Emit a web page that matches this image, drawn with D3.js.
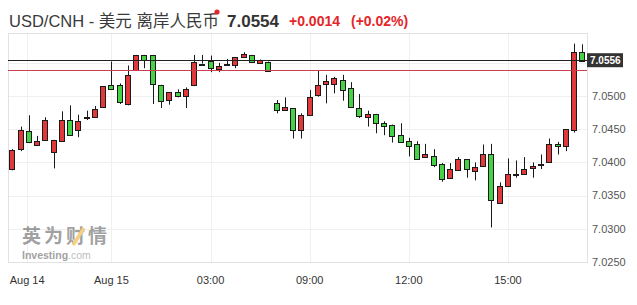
<!DOCTYPE html>
<html>
<head>
<meta charset="utf-8">
<script src="https://cdn.jsdelivr.net/npm/d3@7"></script>
<style>
  body { margin: 0; background: #fff; }
  text { font-family: "Liberation Sans", Arial, "Noto Sans CJK SC", sans-serif; }
</style>
</head>
<body>
<div id="chart"></div>
<script>
/**
 * Data
 */
var openVals = [
  7.0391, 7.0421, 7.0447, 7.0427, 7.0434, 7.0416, 7.0433, 7.0464, 7.0449, 7.0469,
  7.0468, 7.0483, 7.0517, 7.0516, 7.0488, 7.0539, 7.0562, 7.0562, 7.0517, 7.0494,
  7.0506, 7.0499, 7.0517, 7.0549, 7.0553, 7.0541, 7.0548, 7.0547, 7.0559, 7.0562,
  7.0550, 7.0552, 7.0489, 7.0478, 7.0482, 7.0448, 7.0472, 7.0502, 7.0517, 7.0518,
  7.0524, 7.0512, 7.0482, 7.0469, 7.0473, 7.0459, 7.0457, 7.0441, 7.0433, 7.0428,
  7.0408, 7.0410, 7.0397, 7.0377, 7.0388, 7.0405, 7.0387, 7.0394, 7.0412, 7.0340,
  7.0365, 7.0382, 7.0382, 7.0392, 7.0397, 7.0401, 7.0428, 7.0424, 7.0450, 7.0567
];
var highVals = [
  7.0420, 7.0454, 7.0471, 7.0440, 7.0468, 7.0434, 7.0477, 7.0486, 7.0472, 7.0478,
  7.0485, 7.0515, 7.0552, 7.0519, 7.0546, 7.0562, 7.0562, 7.0562, 7.0517, 7.0506,
  7.0510, 7.0513, 7.0562, 7.0562, 7.0561, 7.0550, 7.0556, 7.0559, 7.0566, 7.0562,
  7.0555, 7.0552, 7.0494, 7.0498, 7.0482, 7.0474, 7.0509, 7.0539, 7.0532, 7.0529,
  7.0532, 7.0521, 7.0503, 7.0478, 7.0473, 7.0462, 7.0457, 7.0459, 7.0437, 7.0432,
  7.0428, 7.0420, 7.0399, 7.0399, 7.0408, 7.0405, 7.0400, 7.0427, 7.0428, 7.0370,
  7.0406, 7.0403, 7.0408, 7.0400, 7.0412, 7.0436, 7.0431, 7.0450, 7.0579, 7.0578
];
var lowVals = [
  7.0388, 7.0417, 7.0429, 7.0427, 7.0434, 7.0391, 7.0433, 7.0442, 7.0438, 7.0464,
  7.0468, 7.0483, 7.0511, 7.0488, 7.0486, 7.0539, 7.0542, 7.0488, 7.0482, 7.0487,
  7.0498, 7.0482, 7.0517, 7.0549, 7.0536, 7.0536, 7.0548, 7.0542, 7.0559, 7.0552,
  7.0550, 7.0538, 7.0474, 7.0478, 7.0436, 7.0436, 7.0472, 7.0499, 7.0489, 7.0504,
  7.0493, 7.0483, 7.0467, 7.0454, 7.0444, 7.0441, 7.0430, 7.0430, 7.0409, 7.0406,
  7.0408, 7.0393, 7.0371, 7.0377, 7.0388, 7.0377, 7.0373, 7.0394, 7.0302, 7.0340,
  7.0365, 7.0377, 7.0382, 7.0377, 7.0390, 7.0401, 7.0412, 7.0417, 7.0445, 7.0552
];
var closeVals = [
  7.0419, 7.0449, 7.0431, 7.0433, 7.0464, 7.0434, 7.0464, 7.0442, 7.0463, 7.0469,
  7.0480, 7.0515, 7.0511, 7.0491, 7.0532, 7.0562, 7.0555, 7.0518, 7.0493, 7.0506,
  7.0500, 7.0510, 7.0552, 7.0549, 7.0542, 7.0546, 7.0548, 7.0559, 7.0563, 7.0552,
  7.0555, 7.0538, 7.0478, 7.0483, 7.0449, 7.0471, 7.0499, 7.0517, 7.0522, 7.0527,
  7.0509, 7.0483, 7.0470, 7.0473, 7.0459, 7.0455, 7.0441, 7.0430, 7.0425, 7.0406,
  7.0412, 7.0397, 7.0375, 7.0390, 7.0405, 7.0390, 7.0393, 7.0412, 7.0342, 7.0365,
  7.0383, 7.0382, 7.0390, 7.0395, 7.0397, 7.0428, 7.0425, 7.0450, 7.0567, 7.0554
];

// x axis: candle index where each time label sits
var xTickIdx = [1.8, 12, 24, 36, 48, 60];
var xTickLabels = ["Aug 14", "Aug 15", "03:00", "09:00", "12:00", "15:00"];
var yTicks = [7.025, 7.030, 7.035, 7.040, 7.045, 7.050, 7.055];

var lastPrice = 7.0554;
var prevClose = 7.0540;
var lastLabel = "7.0556";
var changeTxt = "+0.0014";
var pctTxt = "(+0.02%)";

/**
 * Globals
 */
var W = 637, H = 305;
var plot = { l: 8, r: 587, t: 33, b: 262 };
var colors = { up: "#e0393b", down: "#46d147", flat: "#222", grid: "#f0f0f0", frame: "#e2e2e2" };

var candles = openVals.map(function (o, i) {
  return { i: i, o: o, h: highVals[i], l: lowVals[i], c: closeVals[i] };
});

var scale = {
  x: d3.scaleLinear().domain([0, candles.length - 1]).range([12.3, 582.3]),
  y: d3.scaleLinear().domain([7.025, 7.0595]).range([plot.b, plot.t])
};

var svg = d3.select("#chart").append("svg").attr("width", W).attr("height", H);

function crisp(v) {
  return Math.round(v) + 0.5;
}

/**
 * Header
 */
var head = svg.append("g");
head.append("text").attr("x", 9).attr("y", 27)
  .style("font-size", "16.5px").style("fill", "#3a3a3a")
  .text("USD/CNH - 美元 离岸人民币");
head.append("circle").attr("cx", 217).attr("cy", 12).attr("r", 2.6).style("fill", "#e4262b");
head.append("text").attr("x", 227).attr("y", 27)
  .style("font-size", "17px").style("font-weight", "bold").style("fill", "#333")
  .text(lastPrice.toFixed(4));
head.append("text").attr("x", 289).attr("y", 26)
  .style("font-size", "14px").style("font-weight", "bold").style("fill", "#e4262b")
  .text(changeTxt);
head.append("text").attr("x", 351).attr("y", 26)
  .style("font-size", "14px").style("font-weight", "bold").style("fill", "#e4262b")
  .text(pctTxt);

/**
 * Grid + frame
 */
var grid = svg.append("g");
grid.selectAll(".hg").data(yTicks).enter().append("line")
  .attr("x1", plot.l).attr("x2", plot.r)
  .attr("y1", function (d) { return crisp(scale.y(d)); })
  .attr("y2", function (d) { return crisp(scale.y(d)); })
  .style("stroke", colors.grid);
grid.selectAll(".vg").data(xTickIdx).enter().append("line")
  .attr("x1", function (d) { return crisp(scale.x(d)); })
  .attr("x2", function (d) { return crisp(scale.x(d)); })
  .attr("y1", plot.t).attr("y2", plot.b)
  .style("stroke", colors.grid);
svg.append("rect")
  .attr("x", plot.l + 0.5).attr("y", plot.t + 0.5)
  .attr("width", plot.r - plot.l).attr("height", plot.b - plot.t)
  .style("fill", "none").style("stroke", colors.frame);

/**
 * Watermark
 */
var wm = svg.append("g").style("opacity", 0.55);
wm.append("text").attr("x", 22).attr("y", 243)
  .style("font-family", "'Noto Sans CJK SC'").style("font-size", "19px")
  .style("font-weight", "bold").style("fill", "#555")
  .attr("textLength", 85)
  .text("英为财情");
wm.append("line").attr("x1", 73).attr("y1", 245).attr("x2", 84).attr("y2", 228)
  .style("stroke", "#f2a91e").style("stroke-width", 3.5);
var wmt = wm.append("text").attr("x", 22).attr("y", 259).style("font-size", "10.5px").style("fill", "#555");
wmt.append("tspan").style("font-weight", "bold").text("Investing");
wmt.append("tspan").style("fill", "#888").text(".com");

/**
 * Axes labels
 */
var xAxis = svg.append("g").attr("class", "x axis");
xAxis.selectAll("text").data(xTickIdx).enter().append("text")
  .attr("x", function (d) { return scale.x(d); })
  .attr("y", 284)
  .attr("text-anchor", "middle")
  .style("font-size", "11px").style("fill", "#333")
  .text(function (d, i) { return xTickLabels[i]; });

var ly = scale.y(lastPrice);

// tick labels hidden under the last-price box are skipped
var yAxis = svg.append("g").attr("class", "y axis");
yAxis.selectAll("text")
  .data(yTicks.filter(function (d) { return Math.abs(scale.y(d) - ly) > 10; }))
  .enter().append("text")
  .attr("x", 592)
  .attr("y", function (d) { return scale.y(d); })
  .attr("dy", "0.35em")
  .style("font-size", "11px").style("fill", "#555")
  .text(function (d) { return d.toFixed(4); });

/**
 * Candles
 */
function candleColor(d) {
  if (d.c > d.o) return colors.up;
  if (d.c < d.o) return colors.down;
  return colors.flat;
}

var cg = svg.append("g").attr("class", "candles");
var c = cg.selectAll(".candle").data(candles).enter().append("g").attr("class", "candle");

c.append("line")
  .attr("x1", function (d) { return crisp(scale.x(d.i)); })
  .attr("x2", function (d) { return crisp(scale.x(d.i)); })
  .attr("y1", function (d) { return scale.y(d.h); })
  .attr("y2", function (d) { return scale.y(d.l); })
  .style("stroke", "#1a1a1a");

c.append("rect")
  .attr("x", function (d) { return Math.round(scale.x(d.i)) - 2.5; })
  .attr("y", function (d) { return Math.round(scale.y(Math.max(d.o, d.c))) + 0.5; })
  .attr("width", 5)
  .attr("height", function (d) {
    return Math.max(1, Math.round(scale.y(Math.min(d.o, d.c)) - scale.y(Math.max(d.o, d.c))));
  })
  .style("fill", candleColor)
  .style("stroke", "#1a1a1a");

/**
 * Price lines
 */
svg.append("line")
  .attr("x1", plot.l).attr("x2", plot.r)
  .attr("y1", crisp(scale.y(prevClose))).attr("y2", crisp(scale.y(prevClose)))
  .style("stroke", "#c9404f");
svg.append("line")
  .attr("x1", plot.l).attr("x2", plot.r)
  .attr("y1", crisp(ly)).attr("y2", crisp(ly))
  .style("stroke", "#222");

svg.append("rect").attr("x", 587).attr("y", ly - 7).attr("width", 36).attr("height", 14)
  .style("fill", "#333");
svg.append("text").attr("x", 590).attr("y", ly).attr("dy", "0.35em")
  .style("font-size", "10px").style("font-weight", "bold").style("fill", "#fff")
  .text(lastLabel);
</script>
</body>
</html>
